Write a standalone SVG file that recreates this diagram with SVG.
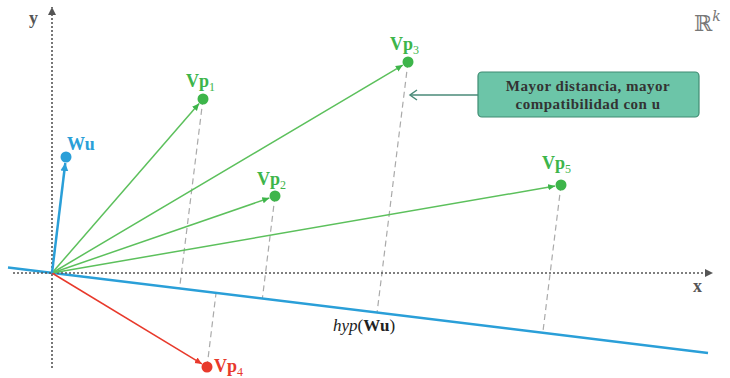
<svg xmlns="http://www.w3.org/2000/svg" width="730" height="378" viewBox="0 0 730 378">
<style>
.axis{stroke:#555;stroke-width:1.6;stroke-dasharray:2,2;fill:none}
.proj{stroke:#aaa;stroke-width:1.2;stroke-dasharray:6,4;fill:none}
.garr{stroke:#5cc05c;stroke-width:1.5;fill:none;marker-end:url(#ag)}
.lbl{font-family:"Liberation Serif","DejaVu Serif",serif;font-weight:bold;font-size:18px}
.g{fill:#3db54a}
.sub{font-size:12px;font-weight:normal}
.ct{font-family:"Liberation Serif",serif;font-weight:bold;font-size:15px;letter-spacing:0.5px;fill:#333}
</style>
<defs>
<marker id="ag" markerWidth="8" markerHeight="8" refX="7" refY="4" orient="auto" markerUnits="userSpaceOnUse"><path d="M0,0.8 L7,4 L0,7.2 Z" fill="#3db54a"/></marker>
<marker id="ar" markerWidth="8" markerHeight="8" refX="7" refY="4" orient="auto" markerUnits="userSpaceOnUse"><path d="M0,0.8 L7,4 L0,7.2 Z" fill="#e8392b"/></marker>
<marker id="ab" markerWidth="10" markerHeight="10" refX="8" refY="5" orient="auto" markerUnits="userSpaceOnUse"><path d="M0,1 L8,5 L0,9 Z" fill="#2a9fd8"/></marker>
<marker id="ax" markerWidth="10" markerHeight="10" refX="8" refY="5" orient="auto" markerUnits="userSpaceOnUse"><path d="M0,1 L8,5 L0,9 Z" fill="#555"/></marker>
<marker id="ac" markerWidth="12" markerHeight="12" refX="8" refY="6" orient="auto" markerUnits="userSpaceOnUse"><path d="M1,1 L8,6 L1,11" fill="none" stroke="#4a8a78" stroke-width="1.5"/></marker>
</defs>
<g id="connectors">
<line class="proj" x1="203" y1="99" x2="179.5" y2="288.7"/>
<line class="proj" x1="275" y1="196" x2="262.3" y2="299"/>
<line class="proj" x1="408" y1="62" x2="377" y2="313.1"/>
<line class="proj" x1="561" y1="185" x2="542.7" y2="333.6"/>
<line class="proj" x1="207" y1="367" x2="216" y2="293.3"/>
<line x1="8" y1="267.6" x2="708" y2="353" stroke="#2a9fd8" stroke-width="2.5"/>
<line class="axis" x1="52" y1="368" x2="52" y2="7" marker-end="url(#ax)"/>
<line class="axis" x1="13" y1="273" x2="713" y2="273" marker-end="url(#ax)"/>
<line class="garr" x1="52" y1="273" x2="199.1" y2="103.5"/>
<line class="garr" x1="52" y1="273" x2="269.3" y2="198"/>
<line class="garr" x1="52" y1="273" x2="402.8" y2="65.1"/>
<line class="garr" x1="52" y1="273" x2="555.1" y2="186"/>
<line x1="52" y1="273" x2="201.9" y2="363.9" stroke="#e8392b" stroke-width="1.5" marker-end="url(#ar)"/>
<line x1="52" y1="273" x2="65.3" y2="163" stroke="#2a9fd8" stroke-width="2.5" marker-end="url(#ab)"/>
<line x1="478" y1="95" x2="410" y2="95" stroke="#4a8a78" stroke-width="1.5" marker-end="url(#ac)"/>
</g>
<g id="axis-labels" class="lbl" fill="#555">
<text x="29" y="24">y</text>
<text x="693" y="292">x</text>
<text x="694" y="31" font-weight="normal" font-size="22" fill="#777" font-family="DejaVu Serif,serif">ℝ<tspan font-size="14" font-style="italic" dy="-10">k</tspan></text>
</g>
<g id="Wu">
<circle cx="66" cy="157" r="5.5" fill="#2a9fd8"/>
<text class="lbl" x="67" y="150" fill="#2a9fd8">Wu</text>
</g>
<g id="Vp1">
<circle cx="203" cy="99" r="5.5" class="g"/>
<text class="lbl g" x="186" y="87">Vp<tspan class="sub" dy="4">1</tspan></text>
</g>
<g id="Vp2">
<circle cx="275" cy="196" r="5.5" class="g"/>
<text class="lbl g" x="257" y="185">Vp<tspan class="sub" dy="4">2</tspan></text>
</g>
<g id="Vp3">
<circle cx="408" cy="62" r="5.5" class="g"/>
<text class="lbl g" x="390" y="50">Vp<tspan class="sub" dy="4">3</tspan></text>
</g>
<g id="Vp5">
<circle cx="561" cy="185" r="5.5" class="g"/>
<text class="lbl g" x="542" y="169">Vp<tspan class="sub" dy="4">5</tspan></text>
</g>
<g id="Vp4">
<circle cx="207" cy="367" r="5.5" fill="#e8392b"/>
<text class="lbl" x="214" y="372" fill="#e8392b">Vp<tspan class="sub" dy="4">4</tspan></text>
</g>
<g id="hyp">
<text x="333" y="331" font-family="Liberation Serif,serif" font-size="17" fill="#222"><tspan font-style="italic">hyp</tspan>(<tspan font-weight="bold">Wu</tspan>)</text>
</g>
<g id="callout">
<rect x="478" y="72" width="221" height="45" rx="4" fill="#6cc5a8" stroke="#3f8c72" stroke-width="1.2"/>
<text class="ct" x="588" y="91" text-anchor="middle">Mayor distancia, mayor</text>
<text class="ct" x="588" y="109" text-anchor="middle">compatibilidad con u</text>
</g>
</svg>
